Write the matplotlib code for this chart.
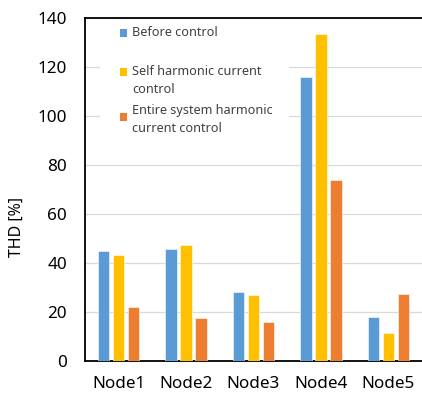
import matplotlib

matplotlib.use("Agg")

import matplotlib.pyplot as plt  # noqa: E402
import numpy as np  # noqa: E402
from matplotlib.patches import Rectangle  # noqa: E402

plt.rcParams["font.family"] = ["Noto Sans", "DejaVu Sans"]

# ---- data ----
nodes = ["Node1", "Node2", "Node3", "Node4", "Node5"]
series_names = [
    "Before control",
    "Self harmonic current\ncontrol",
    "Entire system harmonic\ncurrent control",
]
before_control = [44.8, 45.8, 28.0, 115.8, 18.1]
self_control = [43.4, 47.2, 26.9, 133.3, 11.4]
entire_control = [21.9, 17.4, 15.8, 73.9, 27.2]
y_ticks = [0, 20, 40, 60, 80, 100, 120, 140]

_BLUE = "#5B9BD5"
_YELLOW = "#FFC000"
_ORANGE = "#ED7D31"
_GRID = "#D9D9D9"
_TEXT = "#000000"

fig = plt.figure(figsize=(4.22, 3.94), dpi=100)
ax = fig.add_axes([85 / 422, 33 / 394, 337 / 422, 343 / 394])

x = np.arange(len(nodes))
step = 0.222
width = 0.17
series = [before_control, self_control, entire_control]
colors = [_BLUE, _YELLOW, _ORANGE]
for i, (vals, col) in enumerate(zip(series, colors)):
    ax.bar(x + (i - 1) * step, vals, width=width, color=col,
           edgecolor="white", linewidth=0.4, zorder=3)

ax.set_xlim(-0.5, 4.5)
ax.set_ylim(0, 140)
ax.set_yticks(y_ticks)
ax.set_xticks(x)
ax.set_xticklabels(nodes)
ax.tick_params(axis="y", length=0, pad=13, labelsize=12.3, colors=_TEXT)
ax.tick_params(axis="x", length=0, pad=11, labelsize=12.3, colors=_TEXT)
ax.set_ylabel("THD [%]", fontsize=11.5)
ax.yaxis.set_label_coords(-0.178, 0.39)

ax.grid(axis="y", color=_GRID, linewidth=0.9, zorder=0)
ax.set_axisbelow(True)
for side in ("left", "bottom", "top"):
    ax.spines[side].set_color("black")
    ax.spines[side].set_linewidth(1.3)
ax.spines["right"].set_visible(False)

# ---- legend, laid out by hand like the Excel one ----
ax.add_patch(Rectangle((0.045, 0.645), 0.56, 0.35, transform=ax.transAxes,
                       facecolor="white", edgecolor="none", zorder=1))
handle_y = [0.957, 0.843, 0.7114]
text_y = [0.957, 0.818, 0.703]
for name, col, hy, ty in zip(series_names, colors, handle_y, text_y):
    ax.add_patch(Rectangle((0.105, hy - 0.011), 0.021, 0.022, transform=ax.transAxes,
                           facecolor=col, edgecolor="none", zorder=4))
    ax.text(0.139, ty, name, transform=ax.transAxes, fontsize=9.1,
            va="center", ha="left", linespacing=1.5, color="#404040", zorder=4)

fig.savefig("out.png", dpi=100)
plt.close(fig)
